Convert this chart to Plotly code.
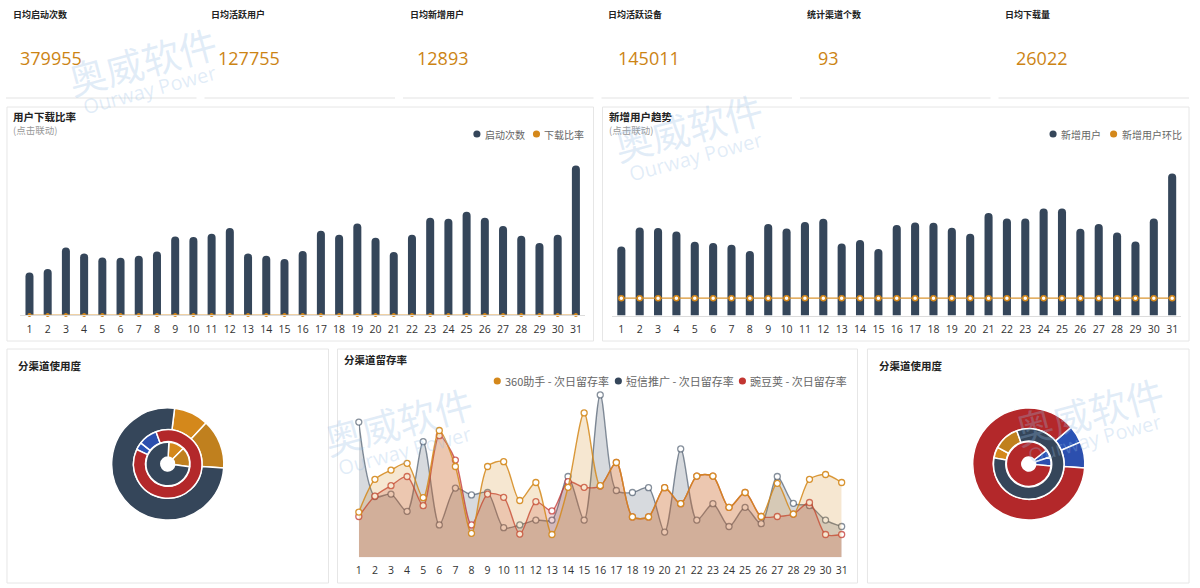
import plotly.graph_objects as go

W, H = 1200, 588
FONT = "Open Sans, Noto Sans CJK SC, sans-serif"
CJK = "Noto Sans CJK SC, Open Sans, sans-serif"

DARK = "#35465a"
ORANGE = "#d4881b"
ORANGE2 = "#c0801e"
RED = "#c23531"
PIE_RED = "#b3282a"
BLUE = "#2a53b5"
BLUE2 = "#2c4fae"

# ---------------- data ----------------
days = list(range(1, 32))
day_labels = [str(d) for d in days]

kpi_titles = ["日均启动次数", "日均活跃用户", "日均新增用户", "日均活跃设备", "统计渠道个数", "日均下载量"]
kpi_values = ["379955", "127755", "12893", "145011", "93", "26022"]

launch_counts = [212000, 230000, 338000, 308000, 288000, 286000, 296000, 318000, 393000, 390000,
                 406000, 435000, 308000, 296000, 280000, 320000, 421000, 401000, 458000, 386000,
                 315000, 401000, 486000, 481000, 516000, 486000, 445000, 396000, 360000, 401000,
                 748000]
download_ratio = [0.07, 0.07, 0.07, 0.07, 0.07, 0.07, 0.07, 0.07, 0.07, 0.07,
                  0.07, 0.07, 0.07, 0.07, 0.07, 0.07, 0.07, 0.07, 0.07, 0.07,
                  0.07, 0.07, 0.07, 0.07, 0.07, 0.07, 0.07, 0.07, 0.07, 0.07,
                  0.07]

new_users = [10350, 13200, 13110, 12600, 11055, 10860, 10605, 9660, 13710, 13050,
             14010, 14505, 10800, 11310, 9960, 13560, 13950, 13905, 13155, 12255,
             15360, 14550, 14550, 16050, 16050, 13005, 13710, 12450, 11100, 14550,
             21300]
new_user_mom = [0, 0, 0, 0, 0, 0, 0, 0, 0, 0,
                0, 0, 0, 0, 0, 0, 0, 0, 0, 0,
                0, 0, 0, 0, 0, 0, 0, 0, 0, 0,
                0]

ret_360 = [11.3, 19.5, 21.8, 23.5, 14.9, 31.7, 22.7, 6.0, 22.7, 23.9,
           14.2, 18.7, 5.7, 17.5, 36.1, 17.9, 23.7, 10.1, 10.1, 17.4,
           13.4, 20.3, 20.3, 12.5, 16.2, 10.2, 18.5, 10.8, 19.5, 20.7,
           18.7]
ret_sms = [33.8, 15.2, 15.8, 11.5, 28.9, 8.1, 17.3, 15.6, 16.2, 7.4,
           8.1, 9.3, 9.3, 20.2, 9.3, 40.6, 16.7, 16.2, 17.4, 6.3,
           27.1, 9.3, 13.4, 7.7, 12.5, 8.4, 20.2, 13.5, 12.9, 9.3,
           7.7]
ret_wdj = [10.2, 15.3, 17.9, 20.2, 12.9, 30.4, 24.3, 8.1, 15.8, 15.0,
           5.8, 13.9, 11.6, 18.9, 17.5, 17.8, 23.7, 10.1, 10.1, 17.4,
           13.4, 20.3, 20.3, 12.5, 16.2, 10.2, 10.2, 10.8, 13.7, 5.7,
           5.7]

# nested pies (percent shares)
left_outer_labels = ["360助手-新用户", "360助手-老用户", "短信推广"]
left_outer_values = [10.0, 14.2, 75.8]
left_mid_labels = ["应用宝-新用户", "应用宝-老用户", "豌豆荚"]
left_mid_values = [3.6, 8.9, 87.5]
left_inner_labels = ["360助手-新用户", "360助手-老用户", "短信推广"]
left_inner_values = [11.7, 14.4, 73.9]

right_outer_labels = ["应用宝-新用户", "应用宝-老用户", "豌豆荚"]
right_outer_values = [5.0, 7.5, 87.5]
right_mid_labels = ["360助手-新用户", "360助手-老用户", "短信推广"]
right_mid_values = [5.0, 11.7, 83.3]
right_inner_labels = ["应用宝-新用户", "应用宝-老用户", "豌豆荚"]
right_inner_values = [5.5, 6.5, 88.0]


# ---------------- helpers (pixel -> paper) ----------------
def px(x):
    return x / W


def py(y):
    return 1 - y / H


fig = go.Figure()

# ---- chart 1: 用户下载比率 ----
fig.add_trace(go.Bar(x=days, y=launch_counts, name="启动次数", marker=dict(color=DARK, line=dict(width=0)),
                     width=0.44, xaxis="x", yaxis="y", showlegend=False))
fig.add_trace(go.Scatter(x=days, y=download_ratio, name="下载比率", mode="lines+markers",
                         line=dict(color="#dea24a", width=1),
                         marker=dict(size=4, color=ORANGE), cliponaxis=False,
                         xaxis="x", yaxis="y", showlegend=False))

# ---- chart 2: 新增用户趋势 ----
fig.add_trace(go.Bar(x=days, y=new_users, name="新增用户", marker=dict(color=DARK, line=dict(width=0)),
                     width=0.44, xaxis="x2", yaxis="y2", showlegend=False))
fig.add_trace(go.Scatter(x=days, y=new_user_mom, name="新增用户环比", mode="lines+markers",
                         line=dict(color="#d99430", width=1.2),
                         marker=dict(size=5, color="white", line=dict(color=ORANGE, width=1.5)),
                         cliponaxis=False, xaxis="x2", yaxis="y3", showlegend=False))

# ---- chart 3: 分渠道留存率 ----
fig.add_trace(go.Scatter(x=days, y=ret_sms, name="短信推广 - 次日留存率", mode="lines+markers",
                         line=dict(color="rgba(53,70,90,0.6)", width=1.4, shape="spline", smoothing=0.8),
                         fill="tozeroy", fillcolor="rgba(53,70,90,0.2)",
                         marker=dict(size=6, color="white", line=dict(color="rgba(53,70,90,0.6)", width=1.3)),
                         cliponaxis=False, xaxis="x3", yaxis="y4", showlegend=False))
fig.add_trace(go.Scatter(x=days, y=ret_wdj, name="豌豆荚 - 次日留存率", mode="lines+markers",
                         line=dict(color="rgba(194,53,49,0.75)", width=1.4, shape="spline", smoothing=0.8),
                         fill="tozeroy", fillcolor="rgba(194,53,49,0.2)",
                         marker=dict(size=6, color="white", line=dict(color="rgba(194,53,49,0.75)", width=1.3)),
                         cliponaxis=False, xaxis="x3", yaxis="y4", showlegend=False))
fig.add_trace(go.Scatter(x=days, y=ret_360, name="360助手 - 次日留存率", mode="lines+markers",
                         line=dict(color="rgba(212,136,27,0.85)", width=1.4, shape="spline", smoothing=0.8),
                         fill="tozeroy", fillcolor="rgba(212,136,27,0.2)",
                         marker=dict(size=6, color="white", line=dict(color="rgba(212,136,27,0.9)", width=1.3)),
                         cliponaxis=False, xaxis="x3", yaxis="y4", showlegend=False))


# ---- nested pies ----
def ring(cx, cy, r, hole, labels, values, colors, rotation):
    fig.add_trace(go.Pie(labels=labels, values=values, hole=hole, sort=False, direction="clockwise",
                         rotation=rotation, textinfo="none", showlegend=False,
                         marker=dict(colors=colors, line=dict(color="white", width=1.5)),
                         domain=dict(x=[px(cx - r), px(cx + r)], y=[py(cy + r), py(cy - r)])))


ring(166, 464, 56.5, 0.61, left_outer_labels, left_outer_values, [ORANGE, ORANGE2, DARK], 7)
ring(166, 464, 34.5, 0.65, left_mid_labels, left_mid_values, [BLUE, BLUE2, PIE_RED], 295)
ring(166, 464, 22, 0.32, left_inner_labels, left_inner_values, [ORANGE, ORANGE2, DARK], 3)

ring(1033.5, 464, 56.5, 0.63, right_outer_labels, right_outer_values, [BLUE, BLUE2, PIE_RED], 49)
ring(1033.5, 464, 35.5, 0.65, right_mid_labels, right_mid_values, [ORANGE, ORANGE2, DARK], 280)
ring(1033.5, 464, 22.5, 0.31, right_inner_labels, right_inner_values, [BLUE, BLUE2, PIE_RED], 52)

# ---------------- axes ----------------
tickfont = dict(family=FONT, size=10.5, color="#333")
common_x = dict(tickmode="array", tickvals=days, ticktext=day_labels, tickfont=tickfont, ticks="",
                showgrid=False, zeroline=False, fixedrange=True)
hidden_y = dict(visible=False, showgrid=False, zeroline=False, fixedrange=True)

fig.update_layout(
    xaxis=dict(common_x, domain=[px(17.5), px(586.4)], range=[0.5, 31.5], anchor="y",
               showline=True, linecolor="#dcdcdc", linewidth=1, ticklabelstandoff=4),
    yaxis=dict(hidden_y, domain=[py(315), py(160)], range=[0, (315 - 160) * 5000], anchor="x"),
    xaxis2=dict(common_x, domain=[px(613.75), px(1187.25)], range=[0.5, 31.5], anchor="y2",
                showline=True, linecolor="#dcdcdc", linewidth=1, ticklabelstandoff=4),
    yaxis2=dict(hidden_y, domain=[py(315.5), py(160)], range=[0, (315.5 - 160) * 150], anchor="x2"),
    yaxis3=dict(hidden_y, overlaying="y2", range=[-1, 8], anchor="x2"),
    xaxis3=dict(common_x, domain=[px(358.5), px(845)], range=[1, 31], anchor="y4",
                showline=False, ticklabelstandoff=5),
    yaxis4=dict(hidden_y, domain=[py(557.3), py(387.3)], range=[0, 42.5], anchor="x3"),
)

# ---------------- decorations ----------------
shapes = []
annotations = []

# panel borders
for (x0, y0, x1, y1) in [(4, 107, 595, 341), (604, 107, 1195, 341), (4, 349, 328, 583),
                         (337, 349, 861, 583), (871, 349, 1195, 583)]:
    shapes.append(dict(type="rect", xref="paper", yref="paper", x0=px(x0), x1=px(x1), y0=py(y1), y1=py(y0),
                       line=dict(color="#e6e6e6", width=1), fillcolor="rgba(0,0,0,0)", layer="below"))

# KPI cards
value_x = [15, 215, 415, 618, 819, 1019]
for i, (t, v) in enumerate(zip(kpi_titles, kpi_values)):
    annotations.append(dict(text=t, x=px(8 + 200 * i), y=py(15), xref="paper", yref="paper",
                            xanchor="left", yanchor="middle", showarrow=False,
                            font=dict(family=CJK, size=9, color="#222", weight="bold")))
    annotations.append(dict(text=v, x=px(value_x[i]), y=py(58), xref="paper", yref="paper",
                            xanchor="left", yanchor="middle", showarrow=False,
                            font=dict(family=FONT, size=18, color="#cc8414")))
    shapes.append(dict(type="line", xref="paper", yref="paper", x0=px(3 + 200 * i), x1=px(195 + 200 * i),
                       y0=py(98), y1=py(98), line=dict(color="#e3e3e3", width=1)))

# titles
for (t, x, y) in [("用户下载比率", 12, 116), ("新增用户趋势", 613, 116), ("分渠道使用度", 17, 365),
                  ("分渠道留存率", 346, 359), ("分渠道使用度", 885, 365)]:
    annotations.append(dict(text=t, x=px(x - 4), y=py(y), xref="paper", yref="paper", xanchor="left",
                            yanchor="middle", showarrow=False,
                            font=dict(family=CJK, size=10.5, color="#222", weight="bold")))
for x in (12, 613):
    annotations.append(dict(text="(点击联动)", x=px(x - 4), y=py(130), xref="paper", yref="paper",
                            xanchor="left", yanchor="middle", showarrow=False,
                            font=dict(family=CJK, size=9.5, color="#999")))


# legends (circle + text)
def legend_item(cx, cy, color, text, size):
    r = 3.6
    shapes.append(dict(type="circle", xref="paper", yref="paper", x0=px(cx - r), x1=px(cx + r),
                       y0=py(cy + r), y1=py(cy - r), fillcolor=color, line=dict(width=0)))
    annotations.append(dict(text=text, x=px(cx + 6), y=py(cy), xref="paper", yref="paper",
                            xanchor="left", yanchor="middle", showarrow=False,
                            font=dict(family=CJK, size=size, color="#666")))


legend_item(477.5, 134, DARK, "启动次数", 10)
legend_item(537.5, 134, ORANGE, "下载比率", 10)
legend_item(1058, 134, DARK, "新增用户", 10)
legend_item(1119, 134, ORANGE, "新增用户环比", 10)
legend_item(498, 381, ORANGE, "360助手 - 次日留存率", 11)
legend_item(620, 381, DARK, "短信推广 - 次日留存率", 11)
legend_item(745, 381, RED, "豌豆荚 - 次日留存率", 11)

# watermarks
wm_color = "rgba(150,190,230,0.28)"
for (cx, cy, cx2, cy2) in [(140, 60, 148, 89), (690, 126, 698, 156), (398, 420, 405, 450),
                           (1094, 410, 1100, 438)]:
    annotations.append(dict(text="奥威软件", x=px(cx), y=py(cy), xref="paper", yref="paper",
                            xanchor="center", yanchor="middle", showarrow=False, textangle=-15,
                            font=dict(family=CJK, size=38, color=wm_color)))
    annotations.append(dict(text="Ourway Power", x=px(cx2), y=py(cy2), xref="paper", yref="paper",
                            xanchor="center", yanchor="middle", showarrow=False, textangle=-15,
                            font=dict(family=FONT, size=20, color=wm_color)))

fig.update_layout(
    width=W, height=H, autosize=False,
    margin=dict(l=0, r=0, t=0, b=0, pad=0),
    paper_bgcolor="white", plot_bgcolor="rgba(0,0,0,0)",
    shapes=shapes, annotations=annotations,
    bargap=0.5, barcornerradius=4, showlegend=False,
    font=dict(family=FONT, color="#333"),
)

fig.write_html("out.html", config={"displayModeBar": False},
               post_script="document.body.style.margin='0';document.body.style.overflow='hidden';")
